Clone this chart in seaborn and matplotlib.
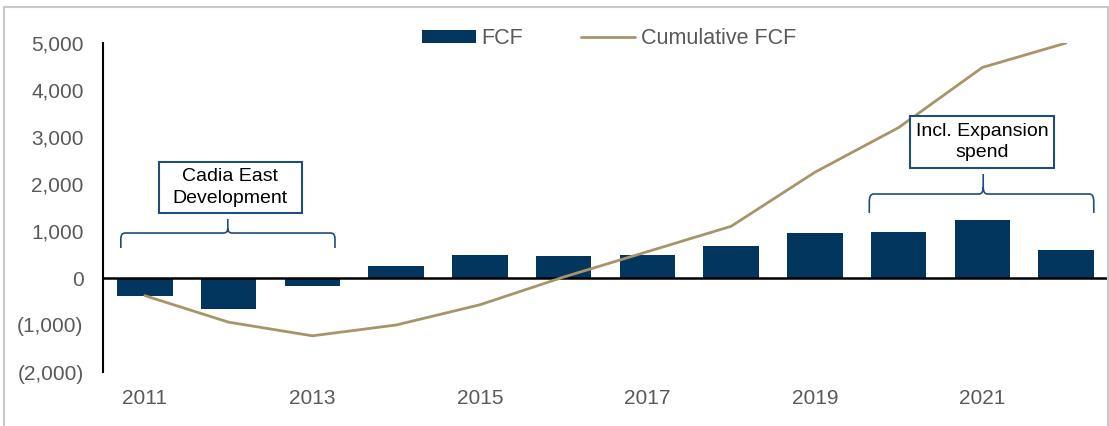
import numpy as np
import pandas as pd
import matplotlib
matplotlib.use("Agg")
import matplotlib.pyplot as plt
from matplotlib.path import Path
from matplotlib.patches import PathPatch, Rectangle
import seaborn as sns

# ---- data ----
years = ["2011", "2012", "2013", "2014", "2015", "2016",
         "2017", "2018", "2019", "2020", "2021", "2022"]
fcf = [-376, -650, -175, 245, 485, 475, 483, 680, 955, 978, 1225, 597]
cumulative_fcf = [-376, -940, -1230, -1000, -570, 20, 560, 1100, 2250, 3200, 4480, 5000]
yticks = [-2000, -1000, 0, 1000, 2000, 3000, 4000, 5000]
shown_years = ["2011", "2013", "2015", "2017", "2019", "2021"]

df = pd.DataFrame({"year": years, "FCF": fcf, "Cumulative FCF": cumulative_fcf})

BAR = "#03365F"
LINE = "#A89468"
GREY = "#595959"
NAVY = "#1F4E79"

sns.set_theme(style="white")
plt.rcParams["font.family"] = ["Liberation Sans", "DejaVu Sans"]

fig = plt.figure(figsize=(11.09, 4.26), dpi=100)
ax = fig.add_axes([103 / 1109, (426 - 372) / 426, 1005 / 1109, 329 / 426])

sns.barplot(data=df, x="year", y="FCF", color=BAR, saturation=1, width=0.66,
            ax=ax, label="FCF", linewidth=0)
sns.lineplot(data=df, x="year", y="Cumulative FCF", color=LINE, linewidth=2.0,
             ax=ax, label="Cumulative FCF", sort=False)

ax.set_ylim(-2000, 5000)
ax.set_xlim(-0.5, len(years) - 0.5)
ax.set_yticks(yticks)
ax.set_yticklabels([f"({abs(v):,})" if v < 0 else f"{v:,}" for v in yticks],
                   color=GREY, fontsize=15)
ax.set_xticks(range(len(years)))
ax.set_xticklabels([y if y in shown_years else "" for y in years],
                   color=GREY, fontsize=15)
ax.tick_params(axis="y", length=0, pad=14)
ax.tick_params(axis="x", length=0, pad=12.5)
ax.set_xlabel("")
ax.set_ylabel("")
for s in ["top", "right", "bottom"]:
    ax.spines[s].set_visible(False)
ax.spines["left"].set_color("black")
ax.spines["left"].set_linewidth(1.5)
ax.axhline(0, color="black", linewidth=1.8, zorder=1.5)

# legend (FCF first)
h, l = ax.get_legend_handles_labels()
order = [l.index("FCF"), l.index("Cumulative FCF")]
h = [h[i] for i in order]
l = [l[i] for i in order]
if ax.get_legend() is not None:
    ax.get_legend().remove()
fig.legend(h, l, loc="center", bbox_to_anchor=(609 / 1109, 1 - 39 / 426), ncol=2,
           frameon=False, fontsize=15.5, handlelength=2.5, handletextpad=0.25,
           columnspacing=2.7, labelcolor=GREY, handleheight=0.55)


def brace(x0, x1, xm, yb, yf, yt):
    dx = 0.05
    dy = (yt - yf) * 0.35
    verts = [(x0, yb), (x0, yf - (yf - yb) * 0.4), (x0, yf), (x0 + dx, yf),
             (xm - dx, yf), (xm, yf), (xm, yf + dy), (xm, yt),
             (xm, yf + dy), (xm, yf), (xm + dx, yf),
             (x1 - dx, yf), (x1, yf), (x1, yf - (yf - yb) * 0.4), (x1, yb)]
    codes = [Path.MOVETO, Path.LINETO, Path.CURVE3, Path.CURVE3,
             Path.LINETO, Path.CURVE3, Path.CURVE3, Path.LINETO,
             Path.MOVETO, Path.CURVE3, Path.CURVE3,
             Path.LINETO, Path.CURVE3, Path.CURVE3, Path.LINETO]
    ax.add_patch(PathPatch(Path(verts, codes), fill=False, ec=NAVY, lw=1.2,
                           clip_on=False))


brace(-0.287, 2.27, 0.99, 638, 957, 1255)
brace(8.65, 11.33, 10.01, 1383, 1787, 2213)


def box(x0, x1, y0, y1, text):
    ax.add_patch(Rectangle((x0, y0), x1 - x0, y1 - y0, fc="white", ec=NAVY,
                           lw=1.5, zorder=5, clip_on=False))
    ax.text((x0 + x1) / 2, (y0 + y1) / 2, text, ha="center", va="center",
            fontsize=14, color="black", linespacing=1.38, zorder=6)


box(0.167, 1.876, 1383, 2468, "Cadia East\nDevelopment")
box(9.14, 10.85, 2340, 3447, "Incl. Expansion\nspend")

# outer frame
fig.add_artist(Rectangle((3.5 / 1109, -0.02), (1107.5 - 3.5) / 1109, 1 - 6.5 / 426 + 0.02,
                         transform=fig.transFigure, fill=False, ec="#C8C8C8", lw=1.5))

fig.savefig("out.png", dpi=100)
